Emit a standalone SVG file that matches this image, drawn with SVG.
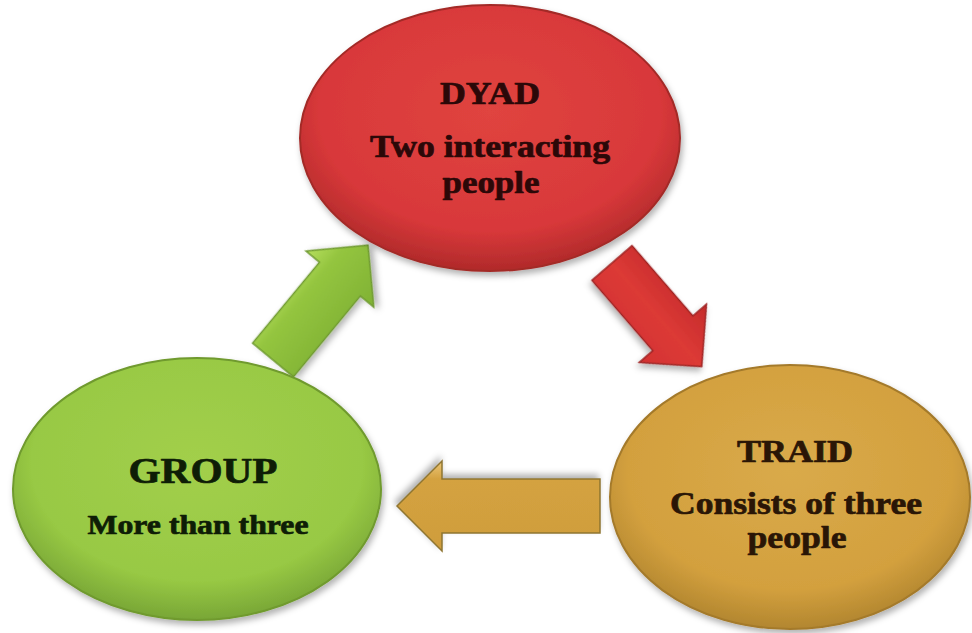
<svg xmlns="http://www.w3.org/2000/svg" width="972" height="633" viewBox="0 0 972 633">
<defs>
<filter id="sh" x="-20%" y="-20%" width="140%" height="140%">
<feDropShadow dx="2" dy="4" stdDeviation="3" flood-color="#000" flood-opacity="0.3"/>
</filter>
<radialGradient id="gRed" cx="50%" cy="40%" r="60%">
<stop offset="0" stop-color="#e0443f"/>
<stop offset="0.75" stop-color="#d8383a"/>
<stop offset="1" stop-color="#b02a2a"/>
</radialGradient>
<radialGradient id="gGreen" cx="50%" cy="40%" r="60%">
<stop offset="0" stop-color="#a2cf4b"/>
<stop offset="0.75" stop-color="#98c944"/>
<stop offset="1" stop-color="#78a636"/>
</radialGradient>
<radialGradient id="gGold" cx="50%" cy="40%" r="60%">
<stop offset="0" stop-color="#d9aa4a"/>
<stop offset="0.75" stop-color="#d3a03e"/>
<stop offset="1" stop-color="#b2862f"/>
</radialGradient>
<linearGradient id="aGreen" x1="0" y1="0" x2="0" y2="1">
<stop offset="0" stop-color="#b6df5e"/>
<stop offset="0.3" stop-color="#94c53f"/>
<stop offset="1" stop-color="#7fb134"/>
</linearGradient>
<linearGradient id="aRed" x1="0" y1="0" x2="0" y2="1">
<stop offset="0" stop-color="#c42a2a"/>
<stop offset="0.5" stop-color="#dc3a36"/>
<stop offset="1" stop-color="#d33232"/>
</linearGradient>
<linearGradient id="aGold" x1="0" y1="0" x2="0" y2="1">
<stop offset="0" stop-color="#cf9d3c"/>
<stop offset="0.8" stop-color="#d4a240"/>
<stop offset="1" stop-color="#ecc77a"/>
</linearGradient>
</defs>
<style>
.node ellipse{stroke-width:2;filter:url(#sh)}
.arr{stroke-width:1.5;filter:url(#sh)}
.t{font-family:"Liberation Serif","Times New Roman",Tinos,serif;font-weight:700;text-anchor:middle;stroke-width:0.7;stroke-linejoin:round}
.red{fill:#2b0808;stroke:#2b0808}
.grn{fill:#0e1d06;stroke:#0e1d06}
.gld{fill:#2a1606;stroke:#2a1606}
</style>
<rect width="972" height="633" fill="#ffffff"/>
<g id="connectors">
<g transform="translate(273,360) rotate(-50.4)">
<polygon class="arr" fill="url(#aGreen)" stroke="#6f9a30" points="0,-26.5 105,-26.5 105,-44 149,0 105,44 105,26.5 0,26.5"/>
</g>
<g transform="translate(612,263) rotate(49.1)">
<polygon class="arr" fill="url(#aRed)" stroke="#9e2424" points="0,-26.5 93,-26.5 93,-44.5 137,0 93,44.5 93,26.5 0,26.5"/>
</g>
<g transform="translate(600,506) rotate(180)">
<polygon class="arr" fill="url(#aGold)" stroke="#8f7530" points="0,-27 158,-27 158,-45 203,0 158,45 158,27 0,27"/>
</g>
</g>
<g id="dyad" class="node">
<ellipse cx="490" cy="138" rx="190" ry="133" fill="url(#gRed)" stroke="#a32a28"/>
<text class="t red" x="490" y="104" font-size="31" textLength="100" lengthAdjust="spacingAndGlyphs">DYAD</text>
<text class="t red" x="490" y="157" font-size="31" textLength="240" lengthAdjust="spacingAndGlyphs">Two interacting</text>
<text class="t red" x="491" y="193" font-size="31" textLength="97" lengthAdjust="spacingAndGlyphs">people</text>
</g>
<g id="group" class="node">
<ellipse cx="197" cy="489" rx="184" ry="131" fill="url(#gGreen)" stroke="#6f9a2e"/>
<text class="t grn" x="203" y="483" font-size="36" textLength="149" lengthAdjust="spacingAndGlyphs">GROUP</text>
<text class="t grn" x="198" y="534" font-size="27" textLength="221" lengthAdjust="spacingAndGlyphs">More than three</text>
</g>
<g id="traid" class="node">
<ellipse cx="790" cy="497" rx="180" ry="132" fill="url(#gGold)" stroke="#a47a2c"/>
<text class="t gld" x="795" y="462" font-size="31" textLength="116" lengthAdjust="spacingAndGlyphs">TRAID</text>
<text class="t gld" x="796" y="514" font-size="31" textLength="252" lengthAdjust="spacingAndGlyphs">Consists of three</text>
<text class="t gld" x="797" y="548" font-size="31" textLength="99" lengthAdjust="spacingAndGlyphs">people</text>
</g>
</svg>
